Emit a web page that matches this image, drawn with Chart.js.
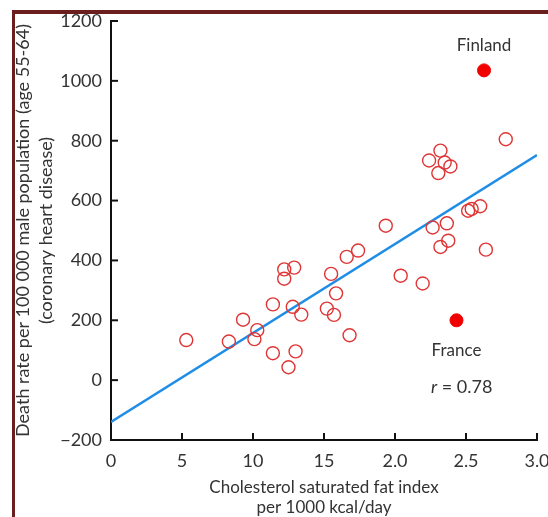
<!DOCTYPE html>
<html>
<head>
<meta charset="utf-8">
<script src="https://cdn.jsdelivr.net/npm/chart.js@4.4.1/dist/chart.umd.min.js"></script>
<style>
  html, body { margin:0; padding:0; background:#fff; overflow:hidden; }
  #wrap { position:relative; width:548px; height:517px; }
  #frame { position:absolute; left:12px; top:10px; width:600px; height:600px;
           border-top:4px solid #6b1e1e; border-left:3px solid #6b1e1e; }
  canvas { position:absolute; left:0; top:0; }
</style>
</head>
<body>
<div id="wrap">
  <div id="frame"></div>
  <canvas id="chart" width="548" height="517"></canvas>
</div>
<script>
// --- données ---
const fatIndex = [0.53,0.83,0.93,1.01,1.03,1.14,1.14,1.22,1.22,1.29,1.28,1.34,1.30,1.25,
                  1.52,1.55,1.585,1.57,1.68,1.66,1.74,1.935,2.04,2.195,2.24,2.265,2.32,2.305,
                  2.35,2.39,2.32,2.365,2.375,2.515,2.54,2.60,2.64,2.78];
const deathRate = [134,129,202,137,167,253,90,370,339,376,245,219,96,43,
                   239,355,290,218,150,412,433,516,349,323,734,510,767,692,
                   727,714,445,524,466,566,572,581,436,805];
const namedCountries = ['Finland','France'];
const namedFat = [2.627,2.433];
const namedDeath = [1035,200];
const fitX = [0,3.0];
const fitY = [-140,752];
const xTickValues = [0,0.5,1,1.5,2,2.5,3];
const xTickLabels = ['0','5','10','15','2.0','2.5','3.0'];
const rText = '0.78';

const FONT = 'Lato, "Open Sans", sans-serif';

// ticks vers l'intérieur + annotations
const extras = {
  id:'extras',
  afterDraw(chart) {
    const {ctx, scales:{x, y}} = chart;
    ctx.save();
    ctx.strokeStyle = '#111'; ctx.lineWidth = 2;
    x.ticks.forEach(t => {
      const px = x.getPixelForValue(t.value);
      ctx.beginPath(); ctx.moveTo(px, y.bottom); ctx.lineTo(px, y.bottom - 7); ctx.stroke();
    });
    y.ticks.forEach(t => {
      const py = y.getPixelForValue(t.value);
      ctx.beginPath(); ctx.moveTo(x.left, py); ctx.lineTo(x.left + 7, py); ctx.stroke();
    });
    ctx.fillStyle = '#333';
    ctx.font = '17px ' + FONT;
    ctx.textAlign = 'center'; ctx.textBaseline = 'middle';
    ctx.fillText(namedCountries[0], x.getPixelForValue(namedFat[0]), y.getPixelForValue(namedDeath[0]) - 25);
    ctx.fillText(namedCountries[1], x.getPixelForValue(namedFat[1]), y.getPixelForValue(namedDeath[1]) + 30);
    // r = 0.78
    const rx = x.getPixelForValue(2.47), ry = y.getPixelForValue(-22);
    ctx.font = '18px ' + FONT;
    const rest = ' = ' + rText;
    const wr = ctx.measureText(rest).width;
    ctx.font = 'italic 18px ' + FONT;
    const wi = ctx.measureText('r').width;
    const x0 = rx - (wr + wi) / 2;
    ctx.textAlign = 'left';
    ctx.fillText('r', x0, ry);
    ctx.font = '18px ' + FONT;
    ctx.fillText(rest, x0 + wi, ry);
    ctx.restore();
  }
};

new Chart(document.getElementById('chart'), {
  type:'scatter',
  data:{
    datasets:[
      { data: fitX.map((v,i)=>({x:v, y:fitY[i]})), showLine:true, borderColor:'#1f8de6',
        borderWidth:2.5, pointRadius:0, order:2 },
      { data: fatIndex.map((v,i)=>({x:v, y:deathRate[i]})), pointRadius:6.5, borderWidth:1.4,
        borderColor:'#e03535', backgroundColor:'rgba(0,0,0,0)', order:1 },
      { data: namedFat.map((v,i)=>({x:v, y:namedDeath[i]})), pointRadius:6.5, borderWidth:1,
        borderColor:'#f20000', backgroundColor:'#f20000', order:0 }
    ]
  },
  options:{
    responsive:false, animation:false,
    layout:{ padding:{ top:21, right:11, bottom:0, left:0 } },
    plugins:{ legend:{ display:false }, tooltip:{ enabled:false } },
    scales:{
      x:{
        type:'linear', min:0, max:3,
        afterBuildTicks: s => { s.ticks = xTickValues.map(v => ({value:v})); },
        afterFit: s => { s.height = 77; s.paddingLeft = 0; s.paddingRight = 0; },
        ticks:{ callback:(v,i) => xTickLabels[i], color:'#333', padding:10, maxRotation:0,
                autoSkip:false, font:{ family:FONT, size:18 } },
        grid:{ drawOnChartArea:false, drawTicks:false },
        border:{ color:'#111', width:2 },
        title:{ display:true, text:['Cholesterol saturated fat index','per 1000 kcal/day'],
                color:'#333', padding:0, font:{ family:FONT, size:17, lineHeight:1.15 } }
      },
      y:{
        min:-200, max:1200,
        afterFit: s => { s.width = 111; s.paddingTop = 0; s.paddingBottom = 0; },
        ticks:{ stepSize:200, color:'#333', padding:9,
                callback: v => v < 0 ? '\u2212' + Math.abs(v) : String(v),
                font:{ family:FONT, size:18 } },
        grid:{ drawOnChartArea:false, drawTicks:false },
        border:{ color:'#111', width:2 },
        title:{ display:true, text:['Death rate per 100 000 male population (age 55-64)','(coronary heart disease)'],
                color:'#333', padding:{ top:12, bottom:0 }, font:{ family:FONT, size:18, lineHeight:1.25 } }
      }
    }
  },
  plugins:[extras]
});
</script>
</body>
</html>
